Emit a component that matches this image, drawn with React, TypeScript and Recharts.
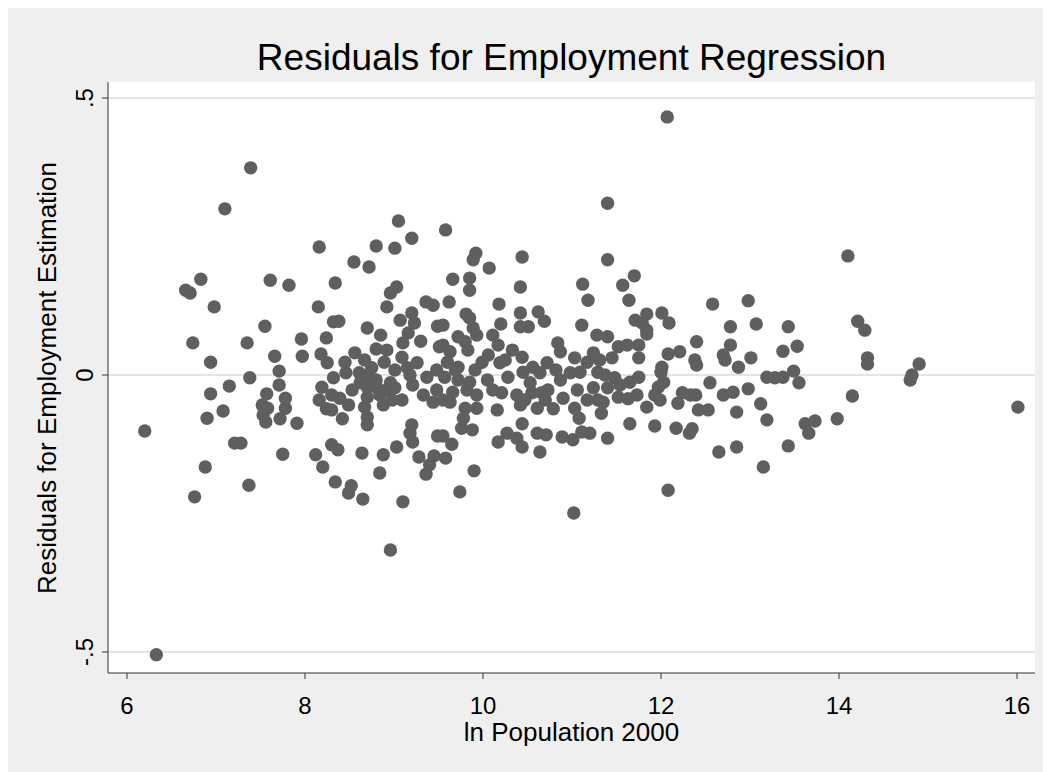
import { ScatterChart, Scatter, XAxis, YAxis, CartesianGrid } from 'recharts';

// ln population 2000 vs. employment residual
const below8 = [
  [7.39, 0.374], [7.10, 0.300], [6.83, 0.173], [6.66, 0.153], [6.71, 0.148], [6.98, 0.123],
  [7.61, 0.171], [7.82, 0.162], [7.55, 0.088], [6.74, 0.058], [7.35, 0.058], [6.94, 0.023],
  [7.66, 0.034], [7.71, 0.007], [7.38, -0.005], [7.15, -0.020], [6.94, -0.034], [7.71, -0.018],
  [7.57, -0.034], [7.52, -0.054], [7.58, -0.060], [7.78, -0.042], [7.78, -0.060], [7.53, -0.072],
  [7.56, -0.085], [7.72, -0.079], [7.08, -0.065], [6.90, -0.078], [6.20, -0.101], [7.21, -0.123],
  [7.28, -0.123], [7.75, -0.143], [6.88, -0.166], [7.37, -0.199], [6.76, -0.220], [6.33, -0.505],
];

const from8 = [
  [9.05, 0.278], [9.20, 0.247], [8.16, 0.231], [8.80, 0.233], [9.01, 0.229], [8.55, 0.204],
  [8.72, 0.195], [8.34, 0.166], [9.03, 0.159], [8.96, 0.148], [8.15, 0.123], [8.92, 0.123],
  [9.36, 0.132], [9.44, 0.126], [8.32, 0.096], [8.38, 0.097], [8.70, 0.085], [9.07, 0.099],
  [9.20, 0.112], [9.23, 0.094], [9.49, 0.088], [7.96, 0.065], [8.24, 0.067], [8.85, 0.072],
  [9.16, 0.076], [9.30, 0.061], [9.51, 0.051], [7.97, 0.034], [8.18, 0.038], [8.25, 0.022],
  [8.56, 0.040], [8.45, 0.023], [8.67, 0.027], [8.80, 0.047], [8.92, 0.045], [8.89, 0.023],
  [9.10, 0.058], [9.09, 0.032], [9.26, 0.022], [8.46, 0.004], [8.32, -0.005], [8.61, 0.004],
  [8.71, 0.000], [8.80, -0.009], [9.01, 0.009], [9.15, 0.013], [9.37, -0.004], [9.48, 0.009],
  [8.19, -0.022], [8.30, -0.036], [8.16, -0.045], [8.24, -0.061], [8.39, -0.042], [8.49, -0.054],
  [8.30, -0.063], [8.42, -0.079], [8.70, -0.022], [8.70, -0.040], [8.67, -0.058], [8.70, -0.076],
  [8.70, -0.090], [8.81, -0.023], [8.92, -0.027], [8.96, -0.014], [8.88, -0.054], [8.98, -0.045],
  [9.09, -0.045], [9.21, -0.018], [9.33, -0.036], [9.44, -0.049], [9.48, -0.027], [7.91, -0.087],
  [9.20, -0.090], [9.18, -0.105], [9.21, -0.121], [9.49, -0.110], [8.30, -0.126], [8.37, -0.135],
  [8.12, -0.144], [8.64, -0.141], [8.88, -0.144], [9.03, -0.130], [9.28, -0.148], [9.45, -0.146],
  [9.40, -0.162], [9.36, -0.179], [8.20, -0.166], [8.84, -0.177], [8.34, -0.193], [8.52, -0.200],
  [8.49, -0.213], [8.65, -0.224], [9.10, -0.229], [8.96, -0.316],
  [8.62, -0.014], [8.75, 0.013], [9.01, -0.023], [8.53, -0.027], [9.18, 0.000], [8.84, -0.036],
];

const from95 = [
  [9.74, -0.211], [11.02, -0.249], [9.58, 0.262], [9.92, 0.220], [9.89, 0.208], [10.44, 0.213],
  [10.07, 0.193], [9.66, 0.173], [9.85, 0.175], [9.85, 0.153], [10.42, 0.159], [11.12, 0.164],
  [11.18, 0.135], [9.62, 0.132], [10.18, 0.128], [9.81, 0.110], [9.85, 0.103], [10.42, 0.112],
  [10.62, 0.114], [10.69, 0.097], [9.55, 0.090], [10.20, 0.092], [10.42, 0.087], [10.51, 0.087],
  [11.11, 0.090], [9.89, 0.085], [9.72, 0.069], [9.93, 0.072], [10.11, 0.072], [10.17, 0.054],
  [9.55, 0.054], [9.83, 0.045], [10.06, 0.036], [10.33, 0.045], [10.44, 0.032], [10.84, 0.058],
  [10.87, 0.042], [10.72, 0.022], [11.03, 0.031], [11.17, 0.023], [9.60, 0.023], [9.72, 0.014],
  [9.91, 0.009], [10.19, 0.022], [10.28, -0.004], [10.56, 0.014], [10.64, 0.004], [9.57, -0.004],
  [9.72, -0.009], [10.05, -0.009], [10.45, 0.005], [10.87, -0.009], [11.09, 0.005], [10.98, 0.004],
  [9.82, -0.027], [9.93, -0.036], [9.66, -0.031], [9.55, -0.045], [10.21, -0.032], [10.38, -0.036],
  [10.55, -0.032], [10.66, -0.032], [10.70, -0.045], [10.90, -0.042], [11.06, -0.027], [11.17, -0.045],
  [9.63, -0.049], [9.93, -0.060], [9.80, -0.060], [10.16, -0.063], [10.42, -0.054], [10.61, -0.060],
  [10.79, -0.061], [11.03, -0.060], [11.08, -0.078], [9.78, -0.078], [9.76, -0.096], [9.88, -0.099],
  [10.44, -0.088], [10.27, -0.105], [10.17, -0.121], [10.38, -0.114], [10.44, -0.130], [10.61, -0.105],
  [10.71, -0.108], [10.64, -0.139], [10.89, -0.112], [11.01, -0.117], [11.11, -0.103], [9.55, -0.110],
  [9.65, -0.125], [9.58, -0.150], [9.90, -0.173],
  [9.63, 0.042], [9.80, 0.060], [9.99, 0.023], [9.85, -0.013], [10.11, -0.027], [9.69, 0.009],
  [10.53, -0.014], [10.73, -0.027], [10.47, -0.045], [10.25, 0.027], [10.82, 0.009],
];

const from11 = [
  [12.08, -0.208], [12.07, 0.466], [11.40, 0.310], [11.40, 0.208], [11.70, 0.179], [11.57, 0.162],
  [11.64, 0.135], [12.58, 0.128], [11.71, 0.099], [11.84, 0.110], [11.79, 0.094], [12.01, 0.112],
  [12.09, 0.094], [12.78, 0.087], [11.84, 0.081], [11.28, 0.072], [11.40, 0.069], [11.84, 0.074],
  [12.40, 0.060], [12.78, 0.054], [11.52, 0.051], [11.62, 0.054], [11.75, 0.054], [11.24, 0.040],
  [11.45, 0.031], [11.75, 0.031], [12.08, 0.038], [12.21, 0.042], [12.38, 0.027], [12.40, 0.018],
  [12.70, 0.036], [12.72, 0.027], [12.87, 0.014], [12.01, 0.014], [12.00, 0.005], [11.29, 0.005],
  [11.48, -0.005], [11.65, -0.013], [11.75, -0.004], [12.03, -0.013], [11.97, -0.022], [12.55, -0.014],
  [11.24, -0.023], [11.40, -0.023], [11.52, -0.040], [11.73, -0.036], [11.63, -0.043], [11.93, -0.036],
  [11.99, -0.045], [12.24, -0.032], [12.19, -0.051], [12.33, -0.036], [12.39, -0.036], [12.70, -0.036],
  [12.81, -0.031], [11.29, -0.045], [11.35, -0.049], [11.33, -0.069], [11.84, -0.058], [12.42, -0.063],
  [12.53, -0.063], [12.85, -0.067], [11.65, -0.088], [11.93, -0.092], [12.17, -0.096], [12.35, -0.097],
  [12.32, -0.105], [11.20, -0.105], [11.40, -0.114], [12.65, -0.139], [12.85, -0.130],
  [11.37, 0.000], [11.54, -0.018], [11.31, 0.027],
];

const from13 = [
  [14.10, 0.215], [12.98, 0.134], [13.07, 0.092], [13.43, 0.087], [14.21, 0.097], [14.29, 0.081],
  [13.53, 0.052], [13.37, 0.043], [13.01, 0.031], [14.32, 0.031], [14.32, 0.020], [14.90, 0.020],
  [14.80, -0.009], [14.82, 0.000], [13.19, -0.004], [13.28, -0.005], [13.37, -0.004], [13.49, 0.007],
  [13.55, -0.014], [12.98, -0.025], [13.12, -0.052], [14.15, -0.038], [13.19, -0.081], [13.62, -0.088],
  [13.73, -0.083], [13.66, -0.105], [13.98, -0.079], [16.01, -0.058], [13.43, -0.128], [13.15, -0.166],
];

const xTicks = [6, 8, 10, 12, 14, 16];
const yTicks = [-0.5, 0, 0.5];

const points = [...below8, ...from8, ...from95, ...from11, ...from13].map(([lnPop, resid]) => ({ lnPop, resid }));

const FONT = '"Liberation Sans", Arial, sans-serif';

const fmtY = (v: number) => (v === 0 ? '0' : v > 0 ? '.5' : '-.5');

const XTick = (props: any) => {
  const { x, y, payload } = props;
  return (
    <text x={x} y={y} dy={17} textAnchor="middle" fontSize={24} fill="#000" fontFamily={FONT}>
      {payload.value}
    </text>
  );
};

const YTick = (props: any) => {
  const { x, y, payload } = props;
  return (
    <text x={x} y={y} textAnchor="middle" fontSize={24} fill="#000" fontFamily={FONT}
      transform={`rotate(-90 ${x} ${y})`}>
      {fmtY(payload.value)}
    </text>
  );
};

const Dot = (props: any) => <circle cx={props.cx} cy={props.cy} r={6.7} fill="#5f5f5f" />;

export default function App() {
  return (
    <div style={{ position: 'relative', width: 1043, height: 764, background: '#efefef', fontFamily: FONT }}>
      <ScatterChart width={1043} height={764} margin={{ top: 74, right: 16, bottom: 59, left: 60 }}>
        <CartesianGrid vertical={false} fill="#fff" stroke="#e4e4e4" strokeWidth={2} horizontalValues={yTicks} />
        <XAxis type="number" dataKey="lnPop" domain={[5.787, 16.202]} ticks={xTicks} allowDataOverflow
          height={40} tickSize={6} tickMargin={18} tick={<XTick />} stroke="#333" tickLine={{ stroke: '#333' }} />
        <YAxis type="number" dataKey="resid" domain={[-0.538, 0.529]} ticks={yTicks} allowDataOverflow
          width={40} tickSize={6} tickMargin={9} tick={<YTick />} stroke="#333" tickLine={{ stroke: '#333' }} />
        <Scatter data={points} shape={<Dot />} isAnimationActive={false} />
      </ScatterChart>
      <div style={{ position: 'absolute', left: 100, width: 927, top: 29, textAlign: 'center', fontSize: 37, color: '#000' }}>
        Residuals for Employment Regression
      </div>
      <div style={{ position: 'absolute', left: 100, width: 927, top: 709, textAlign: 'center', fontSize: 26, color: '#000' }}>
        ln Population 2000
      </div>
      <div style={{ position: 'absolute', left: 39 - 300, top: 370 - 15, width: 600, height: 30, lineHeight: '30px',
        textAlign: 'center', fontSize: 26, color: '#000', transform: 'rotate(-90deg)' }}>
        Residuals for Employment Estimation
      </div>
    </div>
  );
}
